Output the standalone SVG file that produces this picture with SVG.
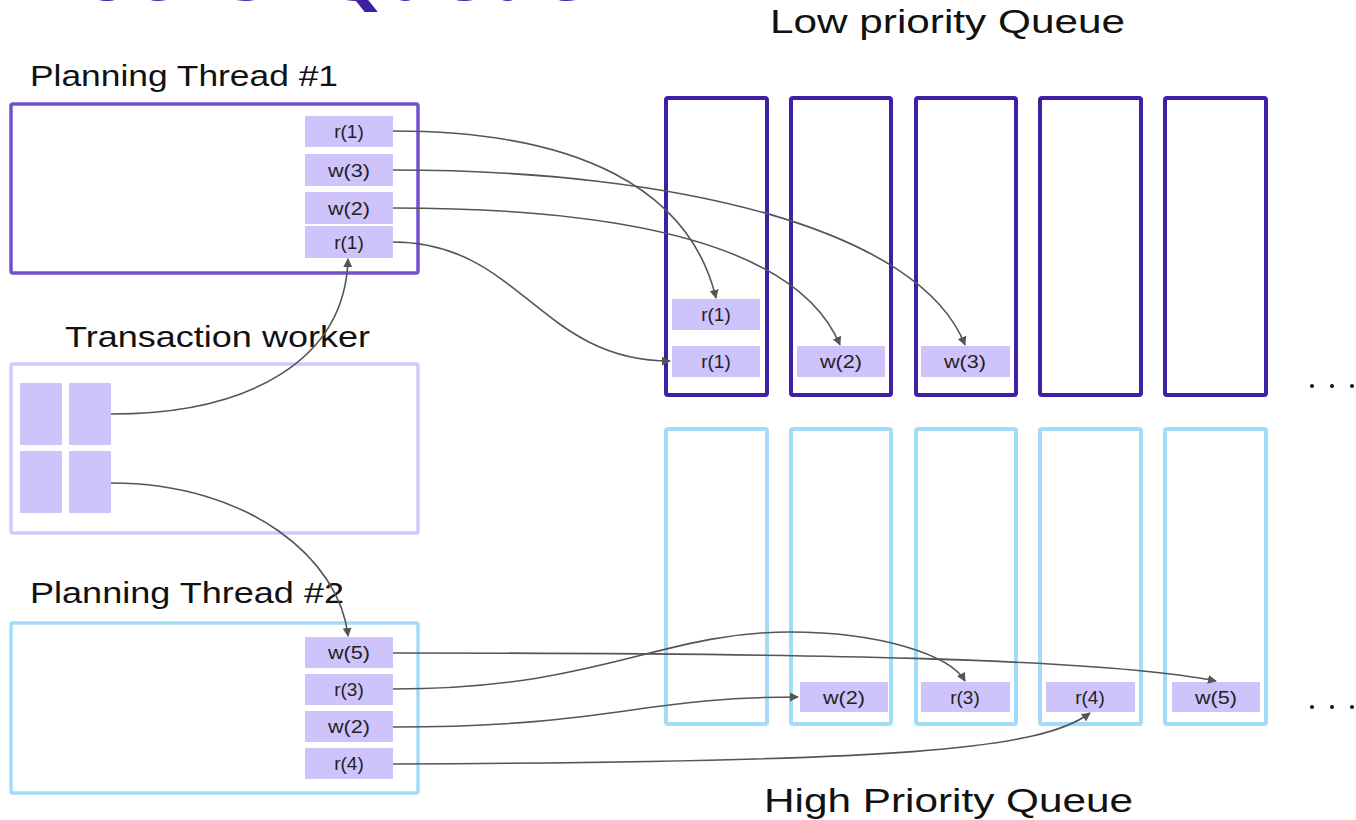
<svg xmlns="http://www.w3.org/2000/svg" width="1356" height="820" viewBox="0 0 1356 820">
<defs>
<style>
.lbl{font-family:"Liberation Sans",Arial,sans-serif;fill:#111}
.big{font-size:29px}
.item{font-family:"Liberation Sans",Arial,sans-serif;font-size:19px;fill:#222;text-anchor:middle}
.cell{fill:#cfc3fc}
.t1{fill:#fff;stroke:#7152cc;stroke-width:3.5}
.tw{fill:#fff;stroke:#d3c7fc;stroke-width:3.5}
.t2{fill:#fff;stroke:#a2dcfa;stroke-width:3.5}
.lq{fill:none;stroke:#3f1fa3;stroke-width:4}
.hq{fill:none;stroke:#a2dcfa;stroke-width:4}
.conn path{fill:none;stroke:#555;stroke-width:1.6;marker-end:url(#arr)}
.dots{fill:#111}
</style>
<marker id="arr" viewBox="0 0 10 10" refX="9" refY="5" markerWidth="9" markerHeight="9" orient="auto" markerUnits="userSpaceOnUse">
<path d="M0,0 L10,5 L0,10 z" fill="#555"/>
</marker>
</defs>
<rect width="1356" height="820" fill="#fff"/>
<g id="title">
<text x="35" y="0" font-family="DejaVu Sans,sans-serif" font-weight="bold" font-size="84" fill="#3f1fa3" textLength="555" lengthAdjust="spacingAndGlyphs">Locks: Queue</text>
</g>

<g id="low-title"><text class="lbl" x="770" y="33" font-size="34" textLength="355" lengthAdjust="spacingAndGlyphs">Low priority Queue</text></g>
<g id="high-title"><text class="lbl" x="764" y="812" font-size="34" textLength="369" lengthAdjust="spacingAndGlyphs">High Priority Queue</text></g>

<g id="thread1">
<text class="lbl big" x="30" y="86" textLength="308" lengthAdjust="spacingAndGlyphs">Planning Thread #1</text>
<rect class="t1" x="11" y="104" width="407" height="169" rx="2"/>
<rect class="cell" x="305" y="116" width="88" height="31"/><text class="item" x="349" y="138">r(1)</text>
<rect class="cell" x="305" y="154" width="88" height="32"/><text class="item" x="349" y="177" textLength="42" lengthAdjust="spacingAndGlyphs">w(3)</text>
<rect class="cell" x="305" y="192" width="88" height="32"/><text class="item" x="349" y="215" textLength="42" lengthAdjust="spacingAndGlyphs">w(2)</text>
<rect class="cell" x="305" y="226" width="88" height="32"/><text class="item" x="349" y="249">r(1)</text>
</g>

<g id="worker">
<text class="lbl big" x="65" y="347" textLength="305" lengthAdjust="spacingAndGlyphs">Transaction worker</text>
<rect class="tw" x="11" y="364" width="407" height="169" rx="2"/>
<rect class="cell" x="20" y="383" width="42" height="62" rx="1"/>
<rect class="cell" x="69" y="383" width="42" height="62" rx="1"/>
<rect class="cell" x="20" y="451" width="42" height="62" rx="1"/>
<rect class="cell" x="69" y="451" width="42" height="62" rx="1"/>
</g>

<g id="thread2">
<text class="lbl big" x="30" y="603" textLength="314" lengthAdjust="spacingAndGlyphs">Planning Thread #2</text>
<rect class="t2" x="11" y="623" width="407" height="170" rx="2"/>
<rect class="cell" x="305" y="637" width="88" height="31"/><text class="item" x="349" y="659" textLength="42" lengthAdjust="spacingAndGlyphs">w(5)</text>
<rect class="cell" x="305" y="674" width="88" height="31"/><text class="item" x="349" y="696">r(3)</text>
<rect class="cell" x="305" y="711" width="88" height="31"/><text class="item" x="349" y="733" textLength="42" lengthAdjust="spacingAndGlyphs">w(2)</text>
<rect class="cell" x="305" y="748" width="88" height="31"/><text class="item" x="349" y="770">r(4)</text>
</g>

<g id="lowq">
<rect class="lq" x="666" y="98" width="101" height="297" rx="2"/>
<rect class="lq" x="791" y="98" width="100" height="297" rx="2"/>
<rect class="lq" x="916" y="98" width="100" height="297" rx="2"/>
<rect class="lq" x="1040" y="98" width="101" height="297" rx="2"/>
<rect class="lq" x="1165" y="98" width="101" height="297" rx="2"/>
<rect class="cell" x="672" y="299" width="88" height="31"/><text class="item" x="716" y="321">r(1)</text>
<rect class="cell" x="672" y="346" width="88" height="31"/><text class="item" x="716" y="368">r(1)</text>
<rect class="cell" x="797" y="346" width="88" height="31"/><text class="item" x="841" y="368" textLength="42" lengthAdjust="spacingAndGlyphs">w(2)</text>
<rect class="cell" x="921" y="346" width="89" height="31"/><text class="item" x="965" y="368" textLength="42" lengthAdjust="spacingAndGlyphs">w(3)</text>
</g>

<g id="highq">
<rect class="hq" x="666" y="429" width="101" height="295" rx="2"/>
<rect class="hq" x="791" y="429" width="100" height="295" rx="2"/>
<rect class="hq" x="916" y="429" width="100" height="295" rx="2"/>
<rect class="hq" x="1040" y="429" width="101" height="295" rx="2"/>
<rect class="hq" x="1165" y="429" width="101" height="295" rx="2"/>
<rect class="cell" x="800" y="682" width="88" height="30"/><text class="item" x="844" y="704" textLength="42" lengthAdjust="spacingAndGlyphs">w(2)</text>
<rect class="cell" x="921" y="682" width="89" height="30"/><text class="item" x="965" y="704">r(3)</text>
<rect class="cell" x="1046" y="682" width="89" height="30"/><text class="item" x="1090" y="704">r(4)</text>
<rect class="cell" x="1172" y="682" width="88" height="30"/><text class="item" x="1216" y="704" textLength="42" lengthAdjust="spacingAndGlyphs">w(5)</text>
</g>

<g id="ellipsis">
<circle class="dots" cx="1312" cy="386" r="2"/><circle class="dots" cx="1332" cy="386" r="2"/><circle class="dots" cx="1352" cy="386" r="2"/>
<circle class="dots" cx="1312" cy="707" r="2"/><circle class="dots" cx="1332" cy="707" r="2"/><circle class="dots" cx="1352" cy="707" r="2"/>
</g>

<g id="connectors" class="conn">
<path d="M393,131 C580,131 690,190 716,298"/>
<path d="M393,170 C680,170 920,230 965,345"/>
<path d="M393,208 C640,208 800,250 840,345"/>
<path d="M393,242 C520,242 540,361 670,361"/>
<path d="M111,414 C250,414 345,360 348,259"/>
<path d="M111,483 C250,483 340,560 348,636"/>
<path d="M393,653 C800,653 1100,658 1216,681"/>
<path d="M393,689 C600,689 660,632 790,632 C880,632 950,655 965,681"/>
<path d="M393,727 C610,727 640,697 798,697"/>
<path d="M393,764 C900,762 1040,750 1090,713"/>
</g>
</svg>
